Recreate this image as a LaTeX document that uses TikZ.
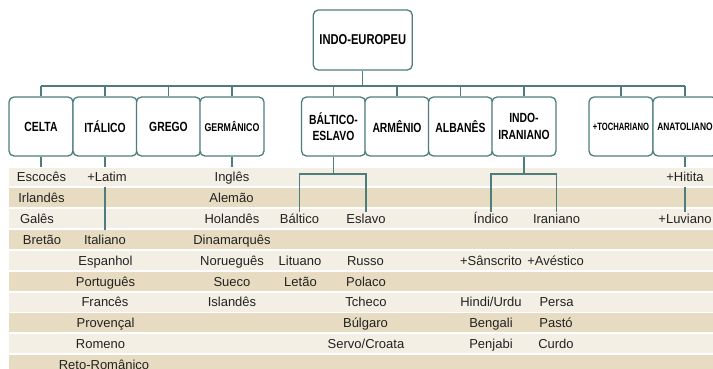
\documentclass[tikz,border=0pt]{standalone}
\usepackage{fontspec}
\setmainfont{Liberation Sans}
\newfontfamily\bxf[FakeStretch=0.78]{Liberation Sans Bold}
\newfontfamily\bxg[FakeStretch=0.72]{Liberation Sans Bold}
\definecolor{edge}{RGB}{78,125,125}
\definecolor{rowA}{RGB}{243,239,228}
\definecolor{rowB}{RGB}{231,220,193}
\definecolor{ink}{RGB}{34,34,34}
\begin{document}
\begin{tikzpicture}[x=1pt,y=-1pt,
  box/.style={draw=edge,line width=1.3pt,rounded corners=5pt,fill=white,minimum width=64pt,minimum height=59pt,inner sep=0pt,align=center,font=\bxf\fontsize{13.3}{16.5}\selectfont,text=black},
  lab/.style={inner sep=0pt,minimum height=18.9pt,text height=11.6pt,text depth=1.8pt,font=\fontsize{13}{15}\selectfont,text=ink},
  conn/.style={draw=edge,line width=1.3pt}]
\useasboundingbox (0,0) rectangle (713,368);
% stripes
\foreach \k in {0,2,4,6,8}{\fill[rowA] (9,{167.5+20.85*\k}) rectangle (713,{186.4+20.85*\k});}
\foreach \k in {1,3,5,7,9}{\fill[rowB] (9,{167.5+20.85*\k}) rectangle (713,{186.4+20.85*\k});}
% boxes
\node[box,minimum width=99pt,minimum height=60pt,font=\bxf\fontsize{14.3}{16}\selectfont] (ie) at (362.8,40) {INDO-EUROPEU};
\node[box] (celta) at (41,126.5) {CELTA};
\node[box] (ital) at (105,126.5) {ITÁLICO};
\node[box] (grego) at (168.5,126.5) {GREGO};
\node[box,font=\bxf\fontsize{11.3}{13}\selectfont] (germ) at (232,126.5) {GERMÂNICO};
\node[box] (balt) at (333.5,126.5) {BÁLTICO-\\ESLAVO};
\node[box] (arm) at (397,126.5) {ARMÊNIO};
\node[box] (alb) at (460.5,126.5) {ALBANÊS};
\node[box] (indoir) at (524,126.5) {INDO-\\IRANIANO};
\node[box,font=\bxg\fontsize{10.6}{12}\selectfont] (toch) at (621,126.5) {+TOCHARIANO};
\node[box,font=\bxf\fontsize{10.8}{12}\selectfont] (anat) at (685,126.5) {ANATOLIANO};
% labels: Celtic
\node[lab] (escoces) at (41.5,176.95) {Escocês};
\node[lab] (irlandes) at (41.5,197.8) {Irlandês};
\node[lab] (gales) at (37,218.65) {Galês};
\node[lab] (bretao) at (42,239.5) {Bretão};
% Italic
\node[lab] (latim) at (107,176.95) {+Latim};
\node[lab] (italiano) at (105,239.5) {Italiano};
\node[lab] (espanhol) at (105.5,260.35) {Espanhol};
\node[lab] (portugues) at (105.5,281.2) {Português};
\node[lab] (frances) at (105,302.05) {Francês};
\node[lab] (provencal) at (105.5,322.9) {Provençal};
\node[lab] (romeno) at (100.5,343.75) {Romeno};
\node[lab] (reto) at (104,364.6) {Reto-Românico};
% Germanic
\node[lab] (ingles) at (232,176.95) {Inglês};
\node[lab] (alemao) at (231.5,197.8) {Alemão};
\node[lab] (holandes) at (232,218.65) {Holandês};
\node[lab] (dinamarques) at (232,239.5) {Dinamarquês};
\node[lab] (noruegues) at (232,260.35) {Norueguês};
\node[lab] (sueco) at (232,281.2) {Sueco};
\node[lab] (islandes) at (232,302.05) {Islandês};
% Baltic / Slavic
\node[lab] (baltico) at (299.5,218.65) {Báltico};
\node[lab] (lituano) at (300,260.35) {Lituano};
\node[lab] (letao) at (300.5,281.2) {Letão};
\node[lab] (eslavo) at (366,218.65) {Eslavo};
\node[lab] (russo) at (365.5,260.35) {Russo};
\node[lab] (polaco) at (366,281.2) {Polaco};
\node[lab] (tcheco) at (366,302.05) {Tcheco};
\node[lab] (bulgaro) at (365.5,322.9) {Búlgaro};
\node[lab] (servo) at (366,343.75) {Servo/Croata};
% Indic / Iranian
\node[lab] (indico) at (491,218.65) {Índico};
\node[lab] (sanscrito) at (491,260.35) {+Sânscrito};
\node[lab] (hindi) at (491,302.05) {Hindi/Urdu};
\node[lab] (bengali) at (491,322.9) {Bengali};
\node[lab] (penjabi) at (491,343.75) {Penjabi};
\node[lab] (iraniano) at (556.5,218.65) {Iraniano};
\node[lab] (avestico) at (555.5,260.35) {+Avéstico};
\node[lab] (persa) at (556.5,302.05) {Persa};
\node[lab] (pasto) at (556,322.9) {Pastó};
\node[lab] (curdo) at (556,343.75) {Curdo};
% Anatolian
\node[lab] (hitita) at (685,176.95) {+Hitita};
\node[lab] (luviano) at (685,218.65) {+Luviano};
% connectors
\coordinate (bus) at (0,86);
\draw[conn] (ie.south) -- (ie.south |- bus);
\draw[conn] (celta.north |- bus) -- (anat.north |- bus);
\foreach \n in {celta,ital,grego,germ,balt,arm,alb,indoir,toch,anat}{\draw[conn] (\n.north) -- (\n.north |- bus);}
\draw[conn] (celta.south) -- (celta.south |- escoces.north);
\draw[conn] (ital.south) -- (ital.south |- latim.north);
\draw[conn] (ital.south |- latim.south) -- (ital.south |- italiano.north);
\draw[conn] (germ.south) -- (germ.south |- ingles.north);
\coordinate (bej) at (333.5,174);
\draw[conn] (balt.south) -- (bej);
\draw[conn] ([yshift=-2.5pt]baltico.north) |- (bej) -| ([yshift=-2.5pt]eslavo.north);
\coordinate (iij) at (524,174);
\draw[conn] (indoir.south) -- (iij);
\draw[conn] ([yshift=-2.5pt]indico.north) |- (iij) -| ([yshift=-2.5pt]iraniano.north);
\draw[conn] (anat.south) -- (hitita.north);
\draw[conn] (hitita.south) -- ([yshift=-2.5pt]luviano.north);
\end{tikzpicture}
\end{document}
